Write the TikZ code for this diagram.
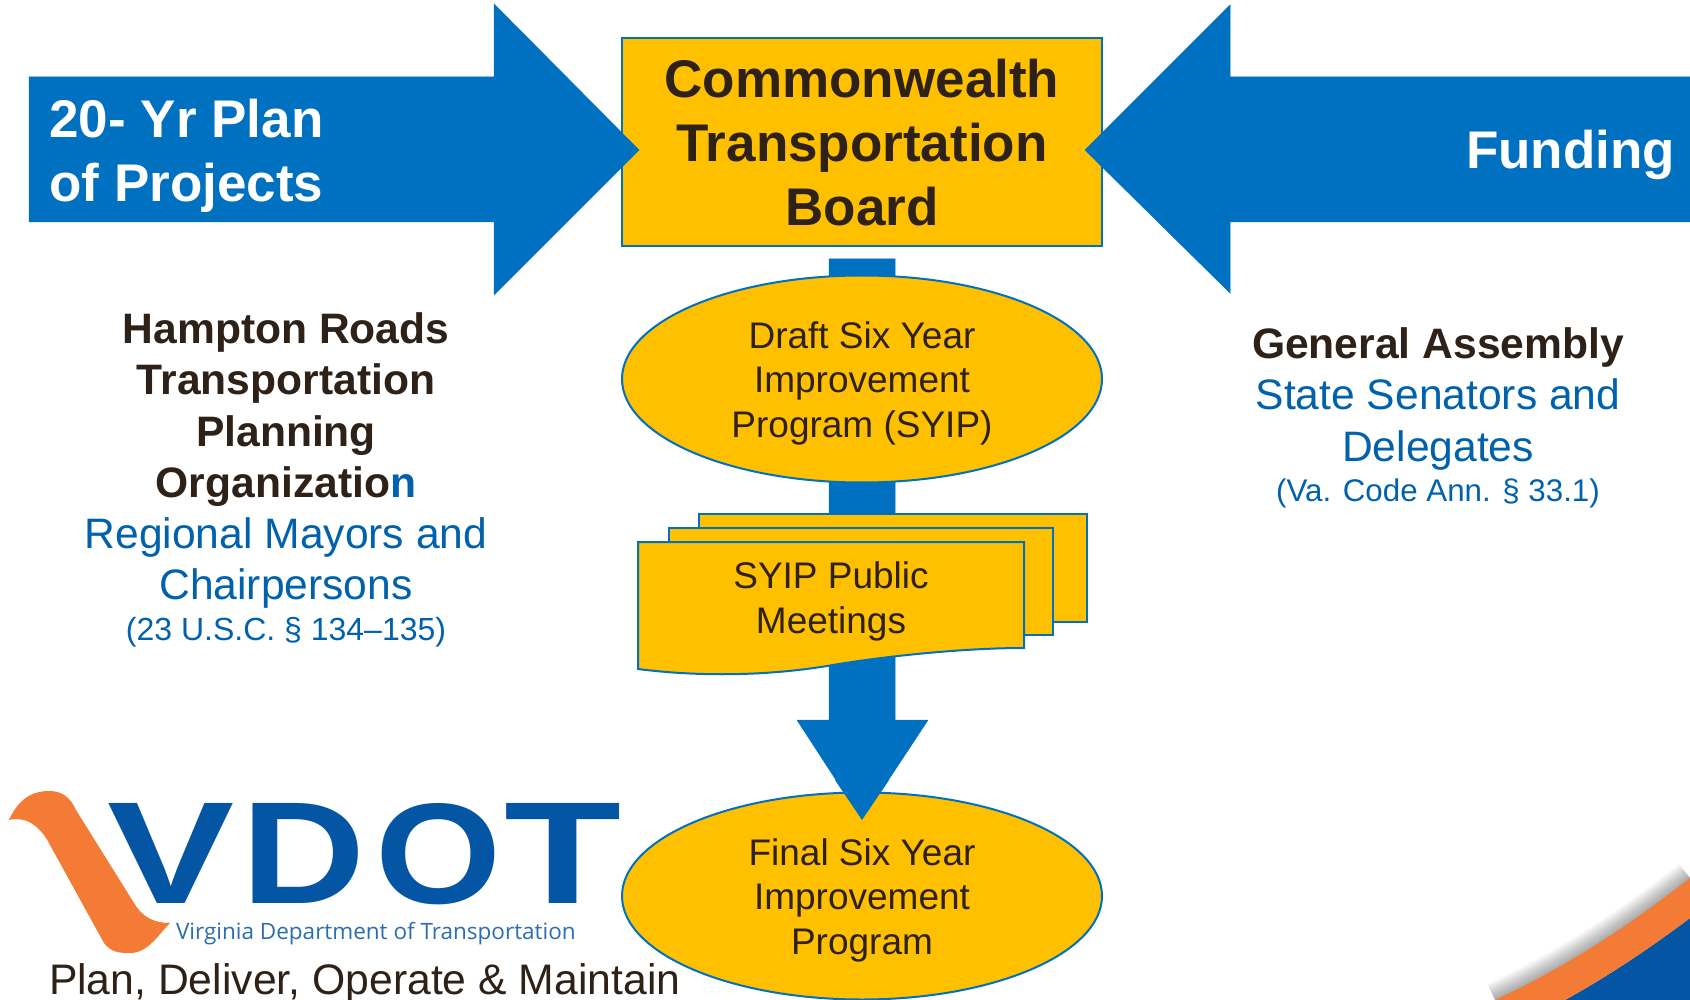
\documentclass[tikz,border=0pt]{standalone}
\usepackage{fontspec}
\usepackage{graphicx}
\setmainfont{Liberation Sans}
\newfontfamily\logosmall{Open Sans}
\usetikzlibrary{shapes.geometric}
\definecolor{bluearrow}{HTML}{0070C0}
\definecolor{gold}{HTML}{FFC000}
\definecolor{darktext}{HTML}{2E2117}
\definecolor{bluetext}{HTML}{0062AC}
\definecolor{logoblue}{HTML}{0455A4}
\definecolor{logoorange}{HTML}{F47B36}
\newcommand{\fs}[2]{\fontsize{#1pt}{#2pt}\selectfont}
\tikzset{
  x=1pt,y=-1pt,
  bluearrowshape/.style={fill=bluearrow,draw=bluearrow,line width=0.5pt,line join=miter},
  goldshape/.style={fill=gold,draw=bluearrow,line width=2pt},
  label/.style={inner sep=0pt,outer sep=0pt,align=center,text=darktext},
  ovalbox/.style={goldshape,ellipse,minimum width=480pt,minimum height=207pt,inner sep=0pt,align=center,text=darktext},
  mainbox/.style={goldshape,rectangle,minimum width=480pt,minimum height=208pt,inner sep=0pt,align=center,text=darktext},
}
\begin{document}
\begin{tikzpicture}
\useasboundingbox (0,0) rectangle (1690,1000);
\fill[white] (0,0) rectangle (1690,1000);
% bottom-right corner decoration
\begin{scope}
\clip (0,0) rectangle (1690,1000);
\foreach \w in {2,4,...,36}{
  \draw[black,opacity=.018,line width=\w pt] (1495,1000) .. controls (1570,965) and (1630,925) .. (1690,878);
}
\fill[logoblue] (1565,1000) .. controls (1610,975) and (1650,948) .. (1690,918) -- (1690,1000) -- cycle;
\fill[logoorange] (1495,1000) .. controls (1570,965) and (1630,925) .. (1690,878) -- (1690,918) .. controls (1650,948) and (1610,975) .. (1565,1000) -- cycle;
\end{scope}
% top box and horizontal arrows over it
\node[mainbox] (ctb) at (862,142) {};
\draw[bluearrowshape] (29,77) -- (494,77) -- (494,4) -- (639,150) -- (494,295) -- (494,222) -- (29,222) -- cycle;
\draw[bluearrowshape] (1690,77) -- (1230,77) -- (1230,5) -- (1085,150) -- (1230,293) -- (1230,222) -- (1690,222) -- cycle;
\node[label,font=\fs{53}{64}\bfseries] (ctbtext) at (ctb) [yshift=-1pt] {Commonwealth\\Transportation\\Board};
% central arrow
\draw[bluearrowshape] (829,259) -- (895,259) -- (895,720) -- (928,720) -- (862,820) -- (797,720) -- (829,720) -- cycle;
\node[ovalbox] (draft) at (862,379) {};
\node[label,font=\fs{37}{44.5}] (drafttext) at (862,383) {Draft Six Year\\Improvement\\Program (SYIP)};
% final ellipse, then arrow tip over it
\node[ovalbox] (final) at (862,896) {};
\fill[bluearrow] (835,780) -- (889,780) -- (862,820) -- cycle;
\node[label,font=\fs{37}{44.5}] (finaltext) at (862,900) {Final Six Year\\Improvement\\Program};
% stacked documents
\draw[goldshape] (699,514) rectangle (1087,622);
\draw[goldshape] (669,528) rectangle (1053,635);
\draw[goldshape] (638,542) -- (1024,542) -- (1024,648) .. controls (960,648) and (880,657) .. (833,665) .. controls (770,676) and (700,677) .. (638,669) -- cycle;
\node[label,font=\fs{37}{45}] (meet) at (831,601) {SYIP Public\\Meetings};
% arrow labels
\node[label,anchor=west,text=white,font=\fs{53}{64}\bfseries,align=left] (plan) at (49.5,155.5) {20- Yr Plan\\of Projects};
\node[label,anchor=east,text=white,font=\fs{53}{64}\bfseries] (fund) at (1675,155) {Funding};
% side texts
\node[label,font=\fs{42.6}{51.5}\bfseries] (hr) at (286,409.5) {Hampton Roads\\Transportation\\Planning\\Organizatio\textcolor{bluetext}{n}};
\node[label,text=bluetext,font=\fs{42.6}{51}] (mayors) at (286,563) {Regional Mayors and\\Chairpersons};
\node[label,text=bluetext,font=\fs{32}{38}] (usc) at (286,632) {(23 U.S.C. § 134–135)};
\node[label,font=\fs{42.6}{51.5}\bfseries] (ga) at (1438,347) {General Assembly};
\node[label,text=bluetext,font=\fs{42.6}{51.5}] (sen) at (1438,424.5) {State Senators and\\Delegates};
\node[label,text=bluetext,font=\fs{31.3}{38}] (code) at (1438,493) {(Va. Code Ann. § 33.1)};
% logo
\fill[logoorange] (9,820) .. controls (20,796) and (35,791) .. (49,791) .. controls (62,791) and (70,797) .. (76,810) -- (134,903) .. controls (143,918) and (155,923) .. (170,923) .. controls (158,935) and (148,953) .. (130,953) .. controls (118,953) and (111,952) .. (104,943) -- (50,845) .. controls (40,825) and (25,816) .. (9,820) -- cycle;
\node[inner sep=0pt,outer sep=0pt,anchor=west,text=logoblue,font=\bfseries] (vdot) at (107,854) {\resizebox{127pt}{100pt}{V}\hspace{7pt}\resizebox{124pt}{100pt}{D}\hspace{10pt}\resizebox{126pt}{100pt}{O}\hspace{3pt}\resizebox{117pt}{100pt}{T}};
\node[label,anchor=west,text=logoblue!85!white,font=\logosmall\fs{22.5}{28}] (vadot) at (176,934) {Virginia Department of Transportation};
\node[label,anchor=west,font=\fs{42.7}{50}] (motto) at (49,983) {Plan, Deliver, Operate \& Maintain};
\end{tikzpicture}
\end{document}
